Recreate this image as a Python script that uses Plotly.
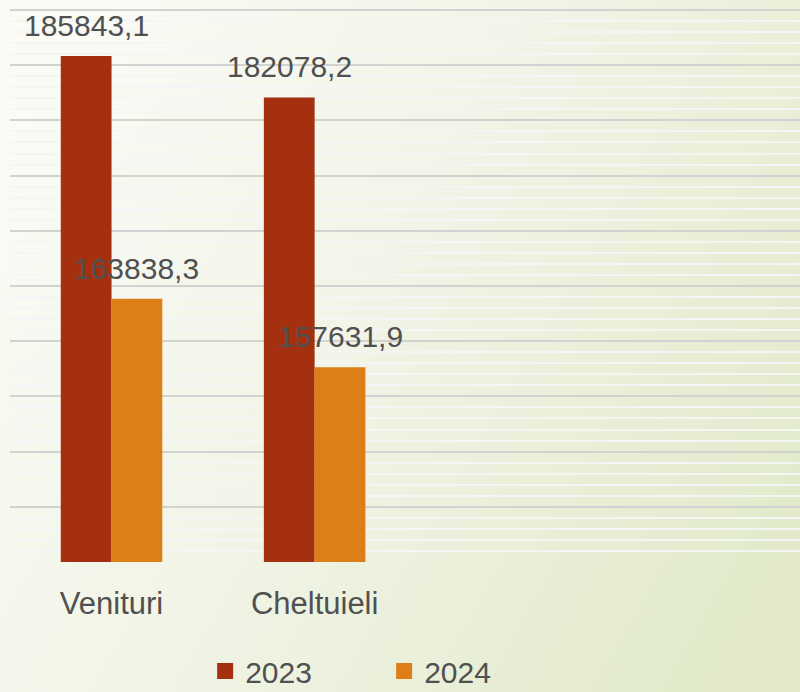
import base64
import plotly.graph_objects as go

categories = ["Venituri", "Cheltuieli"]
years = ["2023", "2024"]
values_2023 = [185843.1, 182078.2]
values_2024 = [163838.3, 157631.9]
colors = ["#A5300F", "#DE7E18"]

text_color = "#505050"
font_family = "Liberation Sans, Arial, sans-serif"


def fmt(v):
    return f"{v:.1f}".replace(".", ",")


fig = go.Figure()
series = [values_2023, values_2024]
for name, vals, col in zip(years, series, colors):
    fig.add_trace(go.Bar(x=categories, y=vals, name=name,
                         marker=dict(color=col, line=dict(width=0)),
                         showlegend=False, hoverinfo="skip"))
for name, col in zip(years, colors):
    fig.add_trace(go.Scatter(x=[None], y=[None], mode="markers", name=name,
                             marker=dict(symbol="square", size=16, color=col)))

offsets = [-0.125, 0.125]
for j, vals in enumerate(series):
    for i, v in enumerate(vals):
        fig.add_annotation(x=i + offsets[j], y=v, xref="x", yref="y",
                           text=fmt(v), showarrow=False, yanchor="bottom",
                           yshift=12,
                           font=dict(size=30, color=text_color, family=font_family))

svg = """<svg xmlns='http://www.w3.org/2000/svg' width='800' height='692' viewBox='0 0 800 692' preserveAspectRatio='none'>
<defs><linearGradient id='g' x1='0' y1='0.25' x2='1' y2='0.75'>
<stop offset='0' stop-color='#fafbf5'/>
<stop offset='0.45' stop-color='#f1f4e6'/>
<stop offset='1' stop-color='#e2eacb'/>
</linearGradient></defs>
<rect width='800' height='692' fill='url(#g)'/></svg>"""
uri = "data:image/svg+xml;base64," + base64.b64encode(svg.encode()).decode()

W, H = 800, 692
ml, mr, mt, mb = 10, 0, 8, 130
pw, ph = W - ml - mr, H - mt - mb
fig.add_layout_image(source=uri, xref="paper", yref="paper",
                     x=-ml / pw, y=1 + mt / ph, sizex=W / pw, sizey=H / ph,
                     xanchor="left", yanchor="top", sizing="stretch", layer="below")

fig.update_layout(
    width=W, height=H,
    margin=dict(l=ml, r=mr, t=mt, b=mb, autoexpand=False),
    barmode="group", bargap=0.5, bargroupgap=0,
    paper_bgcolor="rgba(0,0,0,0)", plot_bgcolor="rgba(0,0,0,0)",
    font=dict(family=font_family, color=text_color, size=30),
    legend=dict(orientation="h", x=0.247, xanchor="left", y=-0.15, yanchor="top",
                font=dict(size=30, color=text_color), entrywidth=134,
                bgcolor="rgba(0,0,0,0)"),
    xaxis=dict(range=[-0.5, 3.39], showgrid=False, ticks="", showline=False,
               tickfont=dict(size=31, color=text_color), ticklabelstandoff=20,
               automargin=False),
    yaxis=dict(range=[140000, 190181], dtick=5000, showticklabels=False,
               gridcolor="#d2d2d2", gridwidth=2, zeroline=False, showline=False,
               minor=dict(dtick=1000, showgrid=True, gridcolor="#f5f5f5", gridwidth=2),
               automargin=False),
)

fig.write_html("out.html", config={"displayModeBar": False},
               post_script="document.body.style.margin='0';document.body.style.overflow='hidden';")
